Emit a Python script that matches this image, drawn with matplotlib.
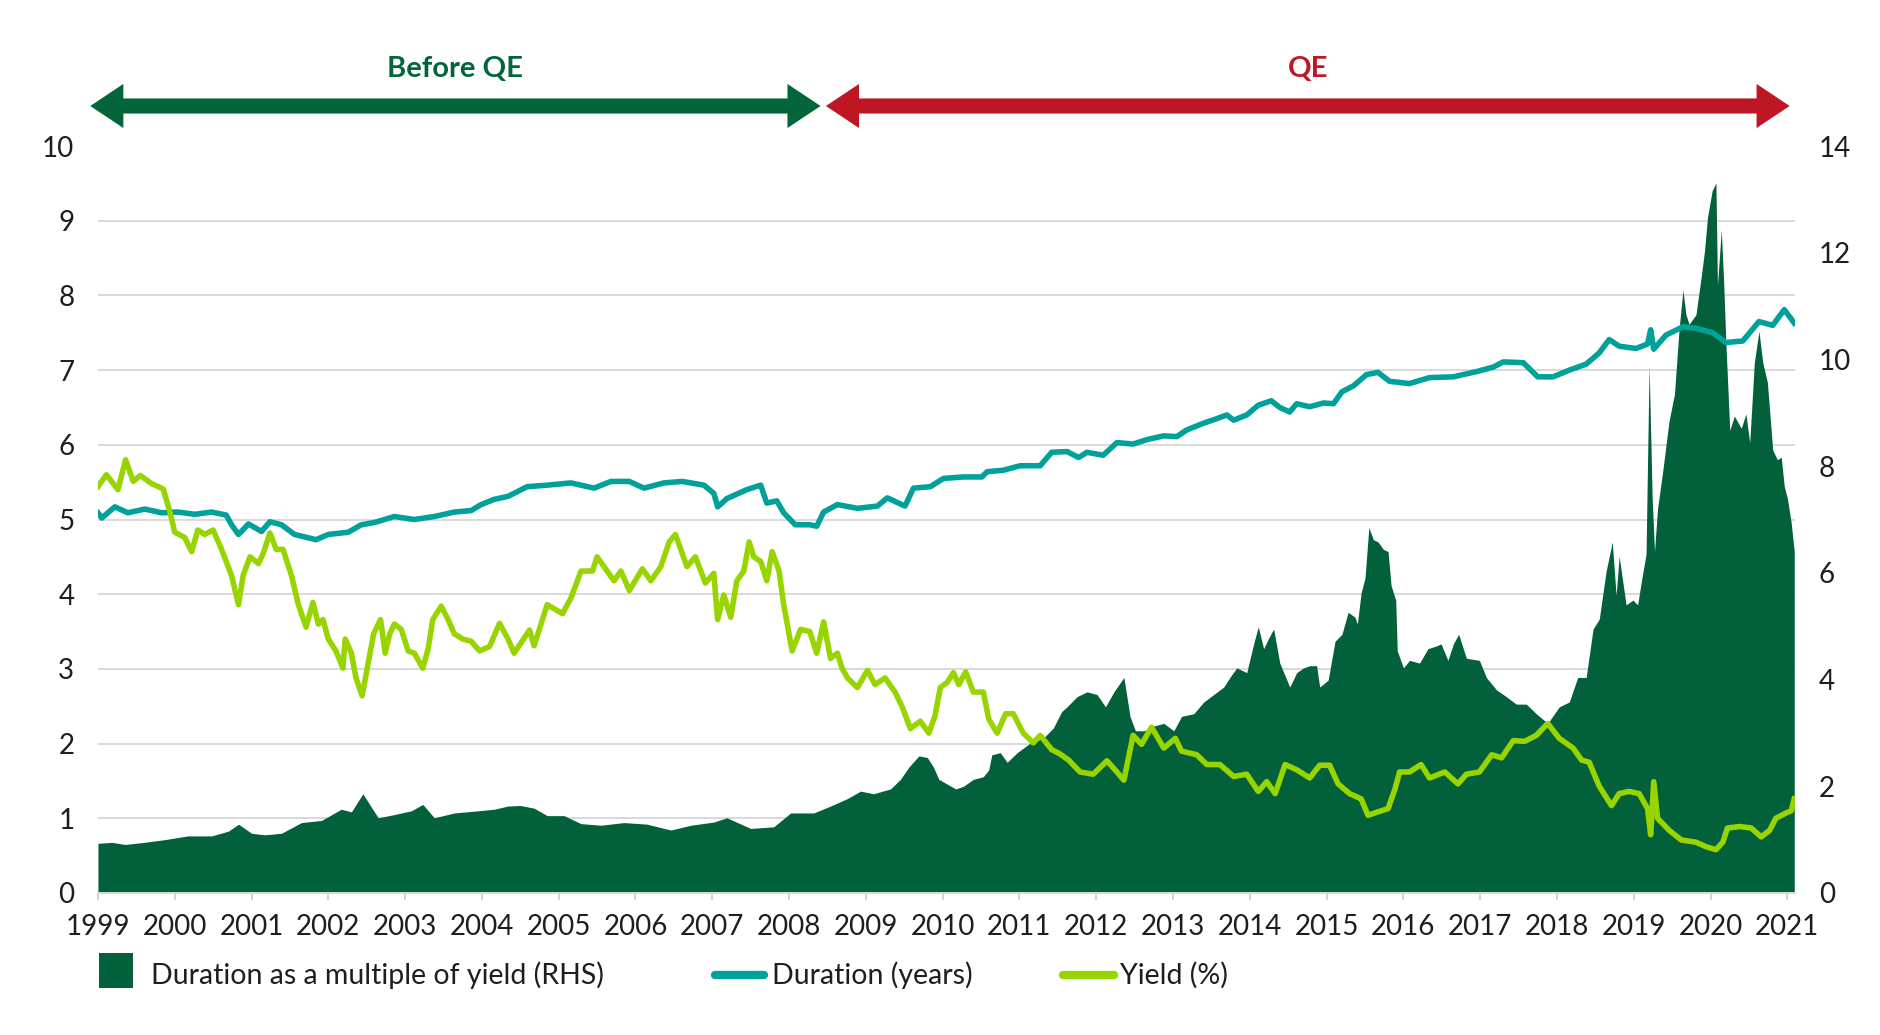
import matplotlib.pyplot as plt
import numpy as np
from matplotlib.patches import Polygon, Rectangle
from matplotlib.lines import Line2D

plt.rcParams['font.family'] = ['Lato', 'DejaVu Sans']

# --- data (decimal years) ---
yield_years = [1999.00, 1999.11, 1999.26, 1999.36, 1999.46, 1999.55, 1999.70, 1999.85, 1999.94,
               2000.00, 2000.13, 2000.22, 2000.30, 2000.39, 2000.50, 2000.61, 2000.74, 2000.83, 2000.89, 2000.98,
               2001.09, 2001.15, 2001.24, 2001.32, 2001.41, 2001.52, 2001.61, 2001.71, 2001.80, 2001.87, 2001.93,
               2002.00, 2002.10, 2002.19, 2002.22, 2002.30, 2002.36, 2002.44, 2002.52, 2002.59, 2002.68, 2002.74,
               2002.80, 2002.86, 2002.95, 2003.04, 2003.12, 2003.23, 2003.30, 2003.36, 2003.47, 2003.56, 2003.64,
               2003.75, 2003.86, 2003.97, 2004.10, 2004.23, 2004.34, 2004.42, 2004.62, 2004.68, 2004.85,
               2005.05, 2005.16, 2005.29, 2005.44, 2005.50, 2005.72, 2005.81, 2005.92, 2006.09, 2006.20, 2006.33,
               2006.44, 2006.52, 2006.67, 2006.78, 2006.91, 2007.02, 2007.07, 2007.15, 2007.24, 2007.32, 2007.41,
               2007.48, 2007.54, 2007.63, 2007.71, 2007.78, 2007.87, 2007.93, 2008.04, 2008.15, 2008.27, 2008.36,
               2008.45, 2008.54, 2008.63, 2008.69, 2008.76, 2008.89, 2009.02, 2009.12, 2009.25, 2009.38, 2009.47,
               2009.58, 2009.71, 2009.82, 2009.90, 2009.97, 2010.06, 2010.14, 2010.21, 2010.30, 2010.40, 2010.53,
               2010.60, 2010.71, 2010.82, 2010.92, 2011.05, 2011.18, 2011.27, 2011.42, 2011.53, 2011.64, 2011.79,
               2011.96, 2012.14, 2012.27, 2012.36, 2012.48, 2012.59, 2012.72, 2012.88, 2013.03, 2013.11, 2013.31,
               2013.44, 2013.61, 2013.79, 2013.96, 2014.11, 2014.22, 2014.33, 2014.46, 2014.61, 2014.78, 2014.91,
               2015.04, 2015.15, 2015.30, 2015.45, 2015.54, 2015.65, 2015.80, 2015.89, 2015.95, 2016.08, 2016.23,
               2016.34, 2016.54, 2016.71, 2016.82, 2016.99, 2017.15, 2017.28, 2017.43, 2017.58, 2017.73, 2017.88,
               2018.03, 2018.21, 2018.32, 2018.42, 2018.55, 2018.71, 2018.81, 2018.94, 2019.07, 2019.18, 2019.22,
               2019.26, 2019.31, 2019.46, 2019.62, 2019.81, 2019.94, 2020.07, 2020.16, 2020.22, 2020.38, 2020.53,
               2020.66, 2020.77, 2020.85, 2020.98, 2021.05, 2021.09]
yield_vals = [5.44, 5.60, 5.40, 5.80, 5.51, 5.59, 5.48, 5.41, 5.09,
              4.83, 4.76, 4.57, 4.86, 4.80, 4.86, 4.60, 4.25, 3.86, 4.25, 4.50,
              4.41, 4.54, 4.82, 4.60, 4.60, 4.25, 3.86, 3.56, 3.89, 3.60, 3.66,
              3.40, 3.24, 3.01, 3.40, 3.21, 2.88, 2.64, 3.08, 3.47, 3.66, 3.21,
              3.47, 3.60, 3.53, 3.24, 3.21, 3.01, 3.27, 3.66, 3.84, 3.66, 3.47,
              3.40, 3.37, 3.24, 3.30, 3.61, 3.40, 3.21, 3.52, 3.31, 3.86,
              3.74, 3.95, 4.31, 4.31, 4.50, 4.18, 4.31, 4.05, 4.34, 4.18, 4.37,
              4.70, 4.80, 4.37, 4.50, 4.15, 4.28, 3.66, 3.99, 3.69, 4.18, 4.31,
              4.70, 4.50, 4.44, 4.18, 4.57, 4.31, 3.86, 3.24, 3.53, 3.50, 3.21,
              3.63, 3.14, 3.21, 3.01, 2.88, 2.75, 2.98, 2.79, 2.88, 2.69, 2.50,
              2.20, 2.30, 2.14, 2.37, 2.75, 2.82, 2.95, 2.79, 2.96, 2.69, 2.69,
              2.33, 2.14, 2.40, 2.40, 2.14, 2.01, 2.11, 1.92, 1.86, 1.78, 1.62,
              1.59, 1.77, 1.62, 1.51, 2.11, 1.99, 2.22, 1.94, 2.07, 1.90, 1.85,
              1.72, 1.72, 1.56, 1.59, 1.36, 1.49, 1.33, 1.72, 1.65, 1.54, 1.71,
              1.71, 1.46, 1.33, 1.26, 1.04, 1.08, 1.13, 1.39, 1.62, 1.62, 1.72,
              1.54, 1.62, 1.46, 1.59, 1.62, 1.85, 1.81, 2.04, 2.03, 2.11, 2.27,
              2.07, 1.94, 1.78, 1.75, 1.43, 1.17, 1.33, 1.36, 1.33, 1.13, 0.78,
              1.49, 1.00, 0.84, 0.71, 0.68, 0.62, 0.58, 0.68, 0.87, 0.89, 0.87,
              0.75, 0.84, 1.00, 1.07, 1.10, 1.26]

dur_years = [1999.00, 1999.05, 1999.22, 1999.39, 1999.61, 1999.83, 2000.04, 2000.26, 2000.48, 2000.67,
             2000.74, 2000.83, 2000.96, 2001.13, 2001.24, 2001.39, 2001.56, 2001.84, 2002.00, 2002.26,
             2002.43, 2002.60, 2002.86, 2003.12, 2003.38, 2003.64, 2003.86, 2003.99, 2004.16, 2004.34,
             2004.59, 2004.85, 2005.16, 2005.46, 2005.68, 2005.92, 2006.11, 2006.37, 2006.61, 2006.89,
             2007.02, 2007.07, 2007.19, 2007.45, 2007.63, 2007.71, 2007.84, 2007.93, 2008.08, 2008.27,
             2008.36, 2008.45, 2008.63, 2008.89, 2009.15, 2009.28, 2009.51, 2009.62, 2009.84, 2010.01,
             2010.27, 2010.51, 2010.58, 2010.79, 2011.01, 2011.27, 2011.42, 2011.62, 2011.77, 2011.88,
             2012.09, 2012.27, 2012.48, 2012.66, 2012.88, 2013.05, 2013.18, 2013.40, 2013.57, 2013.70,
             2013.79, 2013.96, 2014.11, 2014.28, 2014.39, 2014.52, 2014.61, 2014.78, 2014.96, 2015.09,
             2015.20, 2015.35, 2015.52, 2015.67, 2015.82, 2016.08, 2016.34, 2016.65, 2016.95, 2017.17,
             2017.30, 2017.56, 2017.75, 2017.95, 2018.16, 2018.38, 2018.55, 2018.68, 2018.81, 2019.03,
             2019.18, 2019.22, 2019.26, 2019.42, 2019.64, 2019.81, 2020.03, 2020.20, 2020.42, 2020.63,
             2020.81, 2020.96, 2021.09]
dur_vals = [5.09, 5.02, 5.17, 5.09, 5.14, 5.09, 5.10, 5.07, 5.10, 5.06,
            4.93, 4.80, 4.94, 4.84, 4.97, 4.93, 4.80, 4.73, 4.80, 4.83,
            4.93, 4.96, 5.04, 5.00, 5.04, 5.10, 5.12, 5.20, 5.27, 5.31,
            5.44, 5.46, 5.49, 5.42, 5.51, 5.51, 5.42, 5.49, 5.51, 5.46,
            5.35, 5.17, 5.28, 5.40, 5.46, 5.22, 5.25, 5.09, 4.93, 4.93,
            4.91, 5.10, 5.20, 5.15, 5.18, 5.29, 5.18, 5.42, 5.44, 5.55,
            5.57, 5.57, 5.64, 5.66, 5.72, 5.72, 5.90, 5.91, 5.83, 5.90,
            5.86, 6.03, 6.01, 6.07, 6.12, 6.11, 6.20, 6.29, 6.35, 6.40,
            6.33, 6.40, 6.53, 6.59, 6.50, 6.44, 6.55, 6.51, 6.56, 6.55,
            6.71, 6.79, 6.94, 6.97, 6.85, 6.82, 6.90, 6.91, 6.98, 7.04,
            7.11, 7.10, 6.91, 6.91, 7.00, 7.08, 7.23, 7.41, 7.32, 7.29,
            7.35, 7.54, 7.28, 7.47, 7.58, 7.56, 7.50, 7.37, 7.39, 7.65,
            7.60, 7.81, 7.63]

mult_years = [1999.00, 1999.18, 1999.35, 1999.61, 1999.87, 2000.17, 2000.48, 2000.70, 2000.83, 2001.00,
              2001.17, 2001.39, 2001.65, 2001.91, 2002.17, 2002.30, 2002.45, 2002.56, 2002.65, 2002.86,
              2003.08, 2003.23, 2003.38, 2003.64, 2003.95, 2004.16, 2004.34, 2004.50, 2004.68, 2004.85,
              2005.07, 2005.29, 2005.55, 2005.85, 2006.15, 2006.46, 2006.72, 2007.02, 2007.19, 2007.50,
              2007.80, 2008.02, 2008.32, 2008.54, 2008.76, 2008.93, 2009.10, 2009.32, 2009.45, 2009.56,
              2009.69, 2009.80, 2009.88, 2009.95, 2010.06, 2010.17, 2010.27, 2010.40, 2010.53, 2010.60,
              2010.64, 2010.75, 2010.84, 2010.97, 2011.14, 2011.31, 2011.44, 2011.55, 2011.62, 2011.75,
              2011.88, 2012.01, 2012.12, 2012.23, 2012.36, 2012.44, 2012.51, 2012.62, 2012.75, 2012.88,
              2013.01, 2013.11, 2013.27, 2013.40, 2013.53, 2013.66, 2013.74, 2013.83, 2013.96, 2014.05,
              2014.11, 2014.18, 2014.24, 2014.31, 2014.39, 2014.52, 2014.61, 2014.70, 2014.78, 2014.87,
              2014.91, 2015.02, 2015.11, 2015.20, 2015.28, 2015.37, 2015.40, 2015.45, 2015.50, 2015.55,
              2015.61, 2015.67, 2015.74, 2015.80, 2015.84, 2015.90, 2015.92, 2016.00, 2016.08, 2016.21,
              2016.32, 2016.43, 2016.49, 2016.58, 2016.65, 2016.72, 2016.82, 2016.99, 2017.08, 2017.21,
              2017.34, 2017.47, 2017.60, 2017.73, 2017.88, 2018.03, 2018.16, 2018.27, 2018.38, 2018.47,
              2018.55, 2018.64, 2018.72, 2018.77, 2018.81, 2018.90, 2018.99, 2019.05, 2019.10, 2019.16,
              2019.20, 2019.24, 2019.27, 2019.31, 2019.38, 2019.46, 2019.53, 2019.59, 2019.64, 2019.68,
              2019.72, 2019.81, 2019.88, 2019.92, 2019.96, 2020.02, 2020.07, 2020.09, 2020.14, 2020.17,
              2020.20, 2020.25, 2020.31, 2020.40, 2020.46, 2020.51, 2020.57, 2020.63, 2020.68, 2020.74,
              2020.81, 2020.87, 2020.92, 2020.96, 2021.00, 2021.05, 2021.09]
mult_vals = [0.93, 0.95, 0.91, 0.95, 1.00, 1.07, 1.07, 1.16, 1.29, 1.12,
             1.09, 1.12, 1.32, 1.36, 1.57, 1.52, 1.86, 1.61, 1.41, 1.47,
             1.54, 1.66, 1.41, 1.50, 1.54, 1.57, 1.63, 1.64, 1.59, 1.45,
             1.45, 1.30, 1.27, 1.32, 1.29, 1.18, 1.27, 1.33, 1.41, 1.21,
             1.24, 1.50, 1.50, 1.63, 1.77, 1.91, 1.86, 1.95, 2.13, 2.36,
             2.57, 2.54, 2.36, 2.13, 2.04, 1.95, 2.00, 2.13, 2.18, 2.31,
             2.59, 2.63, 2.45, 2.63, 2.81, 2.90, 3.09, 3.40, 3.49, 3.68,
             3.77, 3.72, 3.49, 3.77, 4.04, 3.31, 3.04, 3.04, 3.13, 3.18,
             3.04, 3.31, 3.36, 3.58, 3.72, 3.86, 4.04, 4.22, 4.13, 4.67,
             4.99, 4.58, 4.76, 4.95, 4.31, 3.86, 4.13, 4.22, 4.26, 4.26,
             3.86, 3.99, 4.72, 4.85, 5.26, 5.17, 5.04, 5.63, 5.90, 6.85,
             6.62, 6.58, 6.44, 6.40, 5.76, 5.49, 4.54, 4.22, 4.36, 4.31,
             4.58, 4.63, 4.67, 4.36, 4.67, 4.85, 4.40, 4.36, 4.04, 3.81,
             3.68, 3.54, 3.54, 3.36, 3.18, 3.49, 3.58, 4.04, 4.04, 4.95,
             5.13, 6.03, 6.58, 5.58, 6.31, 5.40, 5.49, 5.40, 5.85, 6.35,
             9.89, 7.40, 6.40, 7.21, 7.94, 8.85, 9.35, 10.57, 11.30, 10.84,
             10.66, 10.84, 11.57, 12.02, 12.66, 13.16, 13.31, 11.39, 12.43, 11.48,
             10.30, 8.67, 8.94, 8.71, 8.98, 8.44, 9.94, 10.53, 9.94, 9.57,
             8.30, 8.12, 8.17, 7.62, 7.40, 6.94, 6.40]

periods = ['Before QE', 'QE']
period_start = [1998.9, 2008.48]
period_end = [2008.41, 2021.03]

DARK = '#02613a'
TEAL = '#00a19a'
LIME = '#98d500'
RED = '#be1622'
GRID = '#d9d9d9'
TXT = '#1e1e1e'

fig = plt.figure(figsize=(18.8, 10.35), dpi=100)
ax = fig.add_axes([0.0521, 0.1372, 0.9027, 0.7217])
ax2 = ax.twinx()

# area on the right-hand scale, lines on the left
ax2.fill_between(mult_years, 0, mult_vals, color=DARK, lw=0, zorder=2)
ax.plot(dur_years, dur_vals, color=TEAL, lw=4, solid_joinstyle='round')
ax.plot(yield_years, yield_vals, color=LIME, lw=4, solid_joinstyle='round')

ax.set_zorder(ax2.get_zorder() + 1)
ax.patch.set_visible(False)

ax.set_xlim(1999, 2021.1)
ax.set_ylim(0, 10)
ax2.set_ylim(0, 14)

ax.set_xticks(range(1999, 2022))
ax.set_yticks(range(0, 11))
ax2.set_yticks(range(0, 15, 2))
# gridlines sit behind the area, so they live on the right axis at the left ticks
ax2.set_yticks(np.linspace(0, 14, 11), minor=True)
ax2.set_axisbelow(True)
ax2.yaxis.grid(True, which='minor', color=GRID, lw=1.4)
ax2.tick_params(axis='y', which='minor', length=0)

for a in (ax, ax2):
    for s in a.spines.values():
        s.set_visible(False)
ax.spines['bottom'].set_visible(True)
ax.spines['bottom'].set_color(GRID)
ax.spines['bottom'].set_linewidth(1.4)

ax.tick_params(axis='x', length=5, width=1.2, color='#c8c8c8', labelsize=20, labelcolor=TXT, pad=10)
ax.tick_params(axis='y', length=0, labelsize=20, labelcolor=TXT, pad=17)
ax2.tick_params(axis='y', which='major', length=0, labelsize=20, labelcolor=TXT, pad=17)

# period arrows above the plot
fig.canvas.draw()
to_fig = fig.transFigure.inverted()
yc, sh, hh, hl = 0.8976, 0.0073, 0.0213, 0.0176
for name, x0d, x1d, col in zip(periods, period_start, period_end, ['#03653a', RED]):
    x0 = to_fig.transform(ax.transData.transform((x0d, 0)))[0]
    x1 = to_fig.transform(ax.transData.transform((x1d, 0)))[0]
    pts = [(x0, yc), (x0 + hl, yc + hh), (x0 + hl, yc + sh), (x1 - hl, yc + sh), (x1 - hl, yc + hh),
           (x1, yc), (x1 - hl, yc - hh), (x1 - hl, yc - sh), (x0 + hl, yc - sh), (x0 + hl, yc - hh)]
    fig.patches.append(Polygon(pts, closed=True, transform=fig.transFigure,
                               facecolor=col, edgecolor='none'))
    fig.text((x0 + x1) / 2, 0.9333, name, ha='center', va='center', fontsize=21,
             fontweight='bold', color=col)

# legend drawn by hand to match spacing
ly = 0.058
fs_leg = 20.5
fig.patches.append(Rectangle((0.0527, 0.0454), 0.0181, 0.0338, transform=fig.transFigure,
                             facecolor=DARK, edgecolor='none'))
fig.text(0.0803, ly, 'Duration as a multiple of yield (RHS)', va='center', fontsize=fs_leg, color=TXT)
fig.lines.append(Line2D([0.3803, 0.4064], [ly, ly], transform=fig.transFigure, color=TEAL,
                        lw=6, solid_capstyle='round'))
fig.text(0.4106, ly, 'Duration (years)', va='center', fontsize=fs_leg, color=TXT)
fig.lines.append(Line2D([0.5654, 0.5926], [ly, ly], transform=fig.transFigure, color=LIME,
                        lw=6, solid_capstyle='round'))
fig.text(0.5957, ly, 'Yield (%)', va='center', fontsize=fs_leg, color=TXT)

fig.savefig('out.png', dpi=100, facecolor='white')
